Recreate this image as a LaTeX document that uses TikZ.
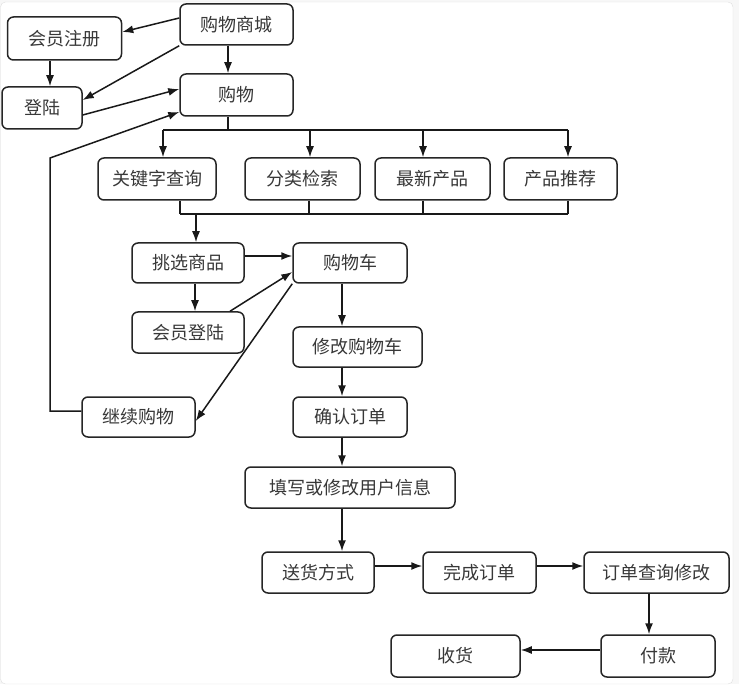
\documentclass[tikz,border=0pt]{standalone}
\usepackage{fontspec}
\usepackage{tikz}
\usetikzlibrary{arrows.meta}
\setmainfont{Noto Sans CJK SC}

\begin{document}
\begin{tikzpicture}[x=1pt,y=-1pt,
        box/.style={draw=black!85,line width=1.5pt,rounded corners=6pt,
                    minimum width=114pt,minimum height=41pt,inner sep=0pt,
                    text=black!78,font=\fontsize{18}{21}\selectfont},
        link/.style={draw=black!90,line width=1.5pt},
        >={Latex[length=11pt,width=8pt]}]
        % frame
        \fill[gray!6] (0,0) rectangle (739,684);
        \draw[gray!25,fill=white,rounded corners=5pt] (0.5,2) rectangle (733,684);
        \useasboundingbox (0,0) rectangle (739,684);
        % top
        \node[box,minimum width=113pt] (shop) at (236.5,24.5) {购物商城};
        \node[box,minimum height=43pt] (reg) at (64.5,38.5) {会员注册};
        \node[box,minimum width=80pt,minimum height=42pt] (login) at (42,108) {登陆};
        \node[box,minimum width=113pt,minimum height=42pt] (buy) at (236.5,95) {购物};
        % search row
        \node[box,minimum width=118pt,minimum height=42pt] (kw) at (157,179) {关键字查询};
        \node[box,minimum width=115pt,minimum height=42pt] (cat) at (302.5,179) {分类检索};
        \node[box,minimum width=115pt,minimum height=42pt] (new) at (432.5,179) {最新产品};
        \node[box,minimum width=113pt,minimum height=42pt] (rec) at (560.5,179) {产品推荐};
        % cart
        \node[box,minimum width=112pt,minimum height=40pt] (pick) at (188,263) {挑选商品};
        \node[box,minimum height=40pt] (cart) at (350,263) {购物车};
        \node[box,minimum width=112pt] (mlogin) at (188,332.5) {会员登陆};
        \node[box,minimum width=129pt,minimum height=40pt] (mod) at (357.5,347) {修改购物车};
        \node[box,minimum width=113pt,minimum height=40pt] (cont) at (138.5,417) {继续购物};
        \node[box,minimum height=40pt] (conf) at (350,417) {确认订单};
        % order
        \node[box,minimum width=210pt] (info) at (350,487.5) {填写或修改用户信息};
        \node[box,minimum width=112pt] (ship) at (318,572.5) {送货方式};
        \node[box,minimum width=113pt] (done) at (479.5,572.5) {完成订单};
        \node[box,minimum width=145pt] (query) at (656.5,572.5) {订单查询修改};
        \node[box,minimum height=42pt] (pay) at (658,656) {付款};
        \node[box,minimum width=129pt,minimum height=42pt] (recv) at (455.5,656) {收货};

        \coordinate (tb) at (0,130);
        \coordinate (bb) at (0,214);
        \coordinate (bend) at (50,158);

        \draw[link,->] ([yshift=6.5pt]shop.west) -- ([yshift=6.5pt]reg.east);
        \draw[link,->] (shop.south west) -- ([yshift=8pt]login.east);
        \draw[link,->] ([xshift=-8.5pt]shop.south) -- ([xshift=-8.5pt]buy.north);
        \draw[link,->] ([xshift=-14.5pt]reg.south) -- ([xshift=-14.5pt]reg.south |- login.north);
        \draw[link,->] ([yshift=-7pt]login.east) -- ([yshift=6pt]buy.west);
        \draw[link,->] ([yshift=6pt]cont.west) -| (bend) -- ([yshift=-17pt]buy.west);

        % bus to the search boxes
        \draw[link] ([xshift=-8.5pt]buy.south) -- ([xshift=-8.5pt]buy.south |- tb);
        \draw[link] ([xshift=6pt]kw.north |- tb) -- ([xshift=7.5pt]rec.north |- tb);
        \draw[link,->] ([xshift=6pt]kw.north |- tb) -- ([xshift=6pt]kw.north);
        \draw[link,->] ([xshift=7.5pt]cat.north |- tb) -- ([xshift=7.5pt]cat.north);
        \draw[link,->] ([xshift=-9.5pt]new.north |- tb) -- ([xshift=-9.5pt]new.north);
        \draw[link,->] ([xshift=7.5pt]rec.north |- tb) -- ([xshift=7.5pt]rec.north);

        % back together
        \draw[link] ([xshift=23pt]kw.south) -- ([xshift=23pt]kw.south |- bb);
        \draw[link] ([xshift=6.5pt]cat.south) -- ([xshift=6.5pt]cat.south |- bb);
        \draw[link] ([xshift=-9.5pt]new.south) -- ([xshift=-9.5pt]new.south |- bb);
        \draw[link] ([xshift=7.5pt]rec.south) -- ([xshift=7.5pt]rec.south |- bb);
        \draw[link] ([xshift=23pt]kw.south |- bb) -- ([xshift=7.5pt]rec.south |- bb);
        \draw[link,->] ([xshift=8pt]pick.north |- bb) -- ([xshift=8pt]pick.north);

        \draw[link,->] ([yshift=7pt]pick.east) -- ([yshift=7pt]cart.west);
        \draw[link,->] ([xshift=7pt]pick.south) -- ([xshift=7pt]mlogin.north);
        \draw[link,->] ([xshift=42pt]mlogin.north) -- ([yshift=-9pt]cart.west);
        \draw[link,->] (cart.south west) -- ([yshift=-4pt]cont.east);
        \draw[link,->] ([xshift=-8pt]cart.south) -- ([xshift=-8pt]cart.south |- mod.north);
        \draw[link,->] ([xshift=-8pt]conf.north |- mod.south) -- ([xshift=-8pt]conf.north);
        \draw[link,->] ([xshift=-8pt]conf.south) -- ([xshift=-8pt]conf.south |- info.north);
        \draw[link,->] ([xshift=-8pt]info.south) -- ([xshift=-8pt]info.south |- ship.north);
        \draw[link,->] ([yshift=6.5pt]ship.east) -- ([yshift=6.5pt]done.west);
        \draw[link,->] ([yshift=6.5pt]done.east) -- ([yshift=6.5pt]query.west);
        \draw[link,->] ([xshift=-7.5pt]query.south) -- ([xshift=-7.5pt]query.south |- pay.north);
        \draw[link,->] ([yshift=6pt]pay.west) -- ([yshift=6pt]recv.east);
\end{tikzpicture}
\end{document}
